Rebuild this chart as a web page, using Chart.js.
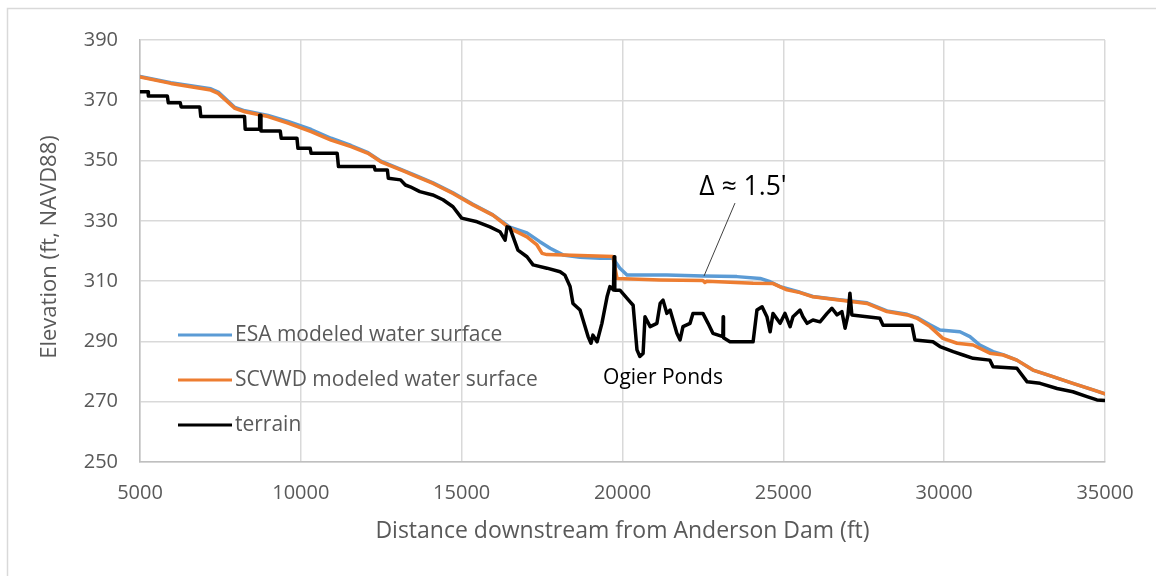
<!DOCTYPE html>
<html>
<head>
<meta charset="utf-8">
<script src="https://cdn.jsdelivr.net/npm/chart.js@4.4.0/dist/chart.umd.min.js"></script>
<style>
  html, body { margin: 0; padding: 0; background: #fff; }
  canvas { display: block; }
</style>
</head>
<body>
<canvas id="chart" width="1156" height="576"></canvas>
<script>
// values (ft)
const xTicks = [5000, 10000, 15000, 20000, 25000, 30000, 35000];
const yTicks = [250, 270, 290, 310, 330, 350, 370, 390];

const esaX = [5000, 5960, 7200, 7450, 7950, 8260, 8980, 9600, 10320, 10940, 11560, 12090, 12490, 13240, 13490, 14110, 14730, 15350, 15970, 16500, 17030, 17430, 17750, 18150, 18680, 19300, 19700, 19920, 20140, 21380, 22500, 23560, 24280, 24590, 24900, 25520, 25920, 26540, 27170, 27600, 28220, 28850, 29160, 29560, 29870, 30490, 30800, 31110, 31520, 31830, 32260, 32760, 33380, 34000, 34630, 35000];
const esaY = [377.9, 375.8, 373.8, 372.6, 367.6, 366.5, 365.0, 363.0, 360.3, 357.4, 355.0, 352.6, 349.8, 346.5, 345.4, 342.6, 339.3, 335.5, 332.0, 327.9, 326.0, 323.1, 320.9, 318.7, 317.9, 317.6, 317.6, 314.3, 312.0, 312.0, 311.7, 311.5, 310.9, 309.8, 308.2, 306.3, 304.9, 304.1, 303.3, 302.8, 300.1, 299.0, 297.9, 295.5, 293.8, 293.2, 291.6, 288.8, 286.6, 285.6, 283.8, 280.5, 278.3, 276.1, 273.9, 272.6];

const scvwdX = [5000, 5960, 7200, 7430, 7950, 8260, 8980, 9600, 10320, 10940, 11560, 12090, 12490, 13240, 13490, 14110, 14730, 15350, 15970, 16500, 17030, 17340, 17500, 17650, 18680, 19700, 19830, 21170, 22500, 22560, 22630, 24060, 24680, 25110, 25520, 25920, 26540, 27170, 27600, 28220, 28850, 29160, 29560, 29960, 30400, 30900, 31420, 31830, 32260, 32760, 33380, 34000, 34630, 35000];
const scvwdY = [377.7, 375.6, 373.4, 372.3, 367.3, 366.2, 364.6, 362.4, 359.6, 356.8, 354.6, 352.4, 349.6, 346.3, 345.2, 342.4, 339.1, 335.3, 331.9, 327.5, 324.7, 322.0, 319.2, 318.8, 318.5, 318.2, 310.9, 310.4, 310.2, 309.6, 310.0, 309.3, 309.2, 307.1, 306.2, 304.8, 304.0, 303.2, 302.6, 299.9, 298.8, 297.7, 294.9, 291.0, 289.4, 288.8, 286.1, 285.5, 283.8, 280.5, 278.3, 276.1, 273.9, 272.6];

const terrainX = [5000, 5250, 5260, 5850, 5880, 6250, 6280, 6860, 6890, 8250, 8270, 8700, 8720, 8750, 8760, 9360, 9390, 9880, 9910, 10290, 10320, 11130, 11170, 12280, 12310, 12690, 12720, 13100, 13250, 13400, 13700, 14100, 14420, 14730, 15000, 15480, 15880, 16190, 16350, 16410, 16500, 16600, 16750, 17030, 17220, 17650, 18060, 18210, 18370, 18460, 18680, 18930, 19020, 19080, 19210, 19360, 19520, 19610, 19720, 19740, 19760, 19920, 20230, 20330, 20450, 20540, 20640, 20700, 20860, 21070, 21170, 21260, 21380, 21480, 21690, 21790, 21880, 22100, 22190, 22500, 22660, 22810, 23120, 23130, 23140, 23340, 24060, 24180, 24340, 24490, 24590, 24680, 24900, 25050, 25210, 25300, 25520, 25610, 25740, 25920, 26140, 26360, 26510, 26670, 26820, 26920, 27010, 27070, 27130, 28000, 28100, 29000, 29090, 29650, 29870, 30280, 30590, 30900, 31420, 31520, 32260, 32580, 32980, 33510, 34000, 34440, 34750, 35000];
const terrainY = [372.8, 372.8, 371.4, 371.4, 369.2, 369.2, 367.8, 367.8, 364.6, 364.6, 360.4, 360.4, 365.0, 365.0, 359.8, 359.8, 357.4, 357.4, 354.1, 354.1, 352.4, 352.4, 348.0, 348.0, 346.9, 346.9, 344.1, 343.6, 341.9, 341.3, 339.7, 338.6, 337.0, 334.7, 330.9, 329.7, 328.0, 326.4, 323.6, 328.0, 327.7, 324.7, 320.3, 318.1, 315.4, 314.3, 313.1, 312.0, 308.2, 302.6, 300.4, 291.6, 289.4, 292.1, 289.9, 296.0, 304.8, 308.2, 307.1, 318.1, 307.0, 307.0, 303.2, 302.0, 287.2, 285.0, 286.0, 298.2, 294.9, 296.0, 302.6, 303.7, 299.3, 300.4, 292.7, 290.5, 294.9, 296.0, 299.3, 299.3, 296.0, 292.7, 291.6, 298.2, 291.2, 289.9, 289.9, 300.4, 301.5, 298.2, 293.2, 299.3, 296.0, 299.3, 294.9, 298.2, 300.4, 298.2, 296.0, 297.1, 296.5, 299.3, 301.0, 298.8, 299.9, 294.4, 298.8, 306.0, 298.8, 297.7, 295.4, 295.4, 290.5, 289.9, 288.3, 286.6, 285.5, 284.4, 283.8, 281.6, 281.1, 276.6, 276.1, 274.4, 273.3, 271.7, 270.6, 270.4];

const seriesNames = ['ESA modeled water surface', 'SCVWD modeled water surface', 'terrain'];
const seriesColors = ['#5B9BD5', '#ED7D31', '#000000'];
const seriesWidths = [3.5, 3.5, 3.5];

const FONT = '"Open Sans", sans-serif';
const GREY = '#595959';

function pts(xs, ys) {
    return xs.map((x, i) => ({ x: x, y: ys[i] }));
}

// legend, titles and notes drawn on top of the plot
const extras = {
    id: 'extras',
    afterDraw(chart) {
        const c = chart.ctx;
        const xs = chart.scales.x, ys = chart.scales.y;
        const area = chart.chartArea;
        c.save();

        // frame of the figure (only top and left edges show)
        c.strokeStyle = '#d9d9d9';
        c.lineWidth = 1.5;
        c.beginPath();
        c.moveTo(7.5, 576);
        c.lineTo(7.5, 8.5);
        c.lineTo(1156, 8.5);
        c.stroke();

        // axis titles
        c.fillStyle = GREY;
        c.font = '23px ' + FONT;
        c.textAlign = 'center';
        c.textBaseline = 'middle';
        c.fillText('Distance downstream from Anderson Dam (ft)', (area.left + area.right) / 2, 531);
        c.save();
        c.translate(50, (area.top + area.bottom) / 2 - 4);
        c.rotate(-Math.PI / 2);
        c.font = '22px ' + FONT;
        c.fillText('Elevation (ft, NAVD88)', 0, 0);
        c.restore();

        // legend inside the plot
        const rows = [335, 380, 425];
        c.font = '21px ' + FONT;
        c.textAlign = 'left';
        seriesNames.forEach((name, i) => {
            c.strokeStyle = seriesColors[i];
            c.lineWidth = 3;
            c.beginPath();
            c.moveTo(178, rows[i]);
            c.lineTo(232, rows[i]);
            c.stroke();
            c.fillStyle = GREY;
            c.fillText(name, 235, rows[i]);
        });

        // notes
        c.fillStyle = '#000';
        c.textAlign = 'center';
        c.font = '26.5px ' + FONT;
        c.fillText('\u0394 \u2248 1.5\'', xs.getPixelForValue(23746), ys.getPixelForValue(341.2));
        c.font = '21px ' + FONT;
        c.fillText('Ogier Ponds', xs.getPixelForValue(21259), ys.getPixelForValue(277.9));

        c.strokeStyle = '#404040';
        c.lineWidth = 1;
        c.beginPath();
        c.moveTo(xs.getPixelForValue(23497), ys.getPixelForValue(335.9));
        c.lineTo(xs.getPixelForValue(22534), ys.getPixelForValue(311.7));
        c.stroke();

        c.restore();
    }
};

const ctx = document.getElementById('chart').getContext('2d');
new Chart(ctx, {
    type: 'scatter',
    data: {
        datasets: [
            { label: seriesNames[0], data: pts(esaX, esaY), borderColor: seriesColors[0], borderWidth: seriesWidths[0], order: 3 },
            { label: seriesNames[1], data: pts(scvwdX, scvwdY), borderColor: seriesColors[1], borderWidth: seriesWidths[1], order: 2 },
            { label: seriesNames[2], data: pts(terrainX, terrainY), borderColor: seriesColors[2], borderWidth: seriesWidths[2], order: 1 }
        ].map(d => Object.assign(d, {
            showLine: true,
            pointRadius: 0,
            borderJoinStyle: 'round',
            borderCapStyle: 'round',
            tension: 0
        }))
    },
    options: {
        responsive: false,
        animation: false,
        layout: { padding: { left: 0, top: 40, right: 51, bottom: 0 } },
        plugins: {
            legend: { display: false },
            tooltip: { enabled: false }
        },
        scales: {
            x: {
                type: 'linear',
                min: 5000,
                max: 35000,
                afterBuildTicks: s => { s.ticks = xTicks.map(v => ({ value: v })); },
                afterFit: s => { s.height = 114; },
                grid: { color: '#d9d9d9', lineWidth: 1.5, drawTicks: false },
                border: { color: '#bfbfbf', width: 1.5 },
                ticks: {
                    color: GREY,
                    padding: 19,
                    maxRotation: 0,
                    font: { family: FONT, size: 20 },
                    callback: v => String(v)
                }
            },
            y: {
                min: 250,
                max: 390,
                afterBuildTicks: s => { s.ticks = yTicks.map(v => ({ value: v })); },
                afterFit: s => { s.width = 140; },
                grid: { color: '#d9d9d9', lineWidth: 1.5, drawTicks: false },
                border: { color: '#bfbfbf', width: 1.5 },
                ticks: {
                    color: GREY,
                    padding: 22,
                    font: { family: FONT, size: 20 },
                    callback: v => String(v)
                }
            }
        }
    },
    plugins: [extras]
});
</script>
</body>
</html>
